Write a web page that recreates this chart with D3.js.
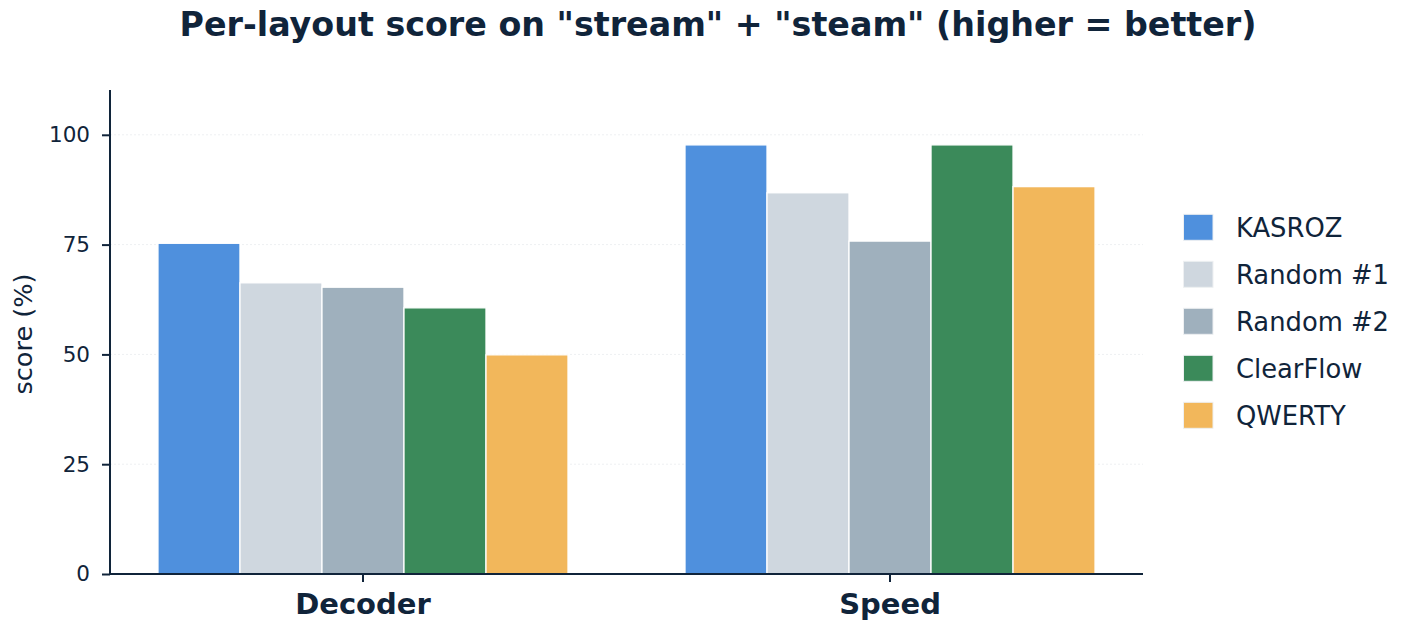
<!DOCTYPE html>
<html><head><meta charset="utf-8">
<script src="https://cdn.jsdelivr.net/npm/d3@7"></script>
<style>body{margin:0;background:#fff}svg{display:block}text{font-family:"DejaVu Sans",sans-serif;fill:#10243a}</style>
</head><body><svg id="c" width="1412" height="631"></svg>
<script>
const categories = ["Decoder", "Speed"];
const seriesNames = ["KASROZ", "Random #1", "Random #2", "ClearFlow", "QWERTY"];
const seriesColors = ["#4f90dd", "#cfd7df", "#9fb0bd", "#3b8a5a", "#f2b75b"];
const kasroz = [75.3, 97.7];
const random1 = [66.3, 86.8];
const random2 = [65.3, 75.8];
const clearflow = [60.6, 97.7];
const qwerty = [49.9, 88.2];
const yTicks = [0, 25, 50, 75, 100];
const values = [kasroz, random1, random2, clearflow, qwerty];

const svg = d3.select("#c");
const L = 110, R = 1143, T = 90, B = 574;
const ink = "#10243a";

const x = d3.scaleBand().domain(categories).range([L, R]).paddingInner(0.222).paddingOuter(0.091);
const xs = d3.scaleBand().domain(seriesNames).range([0, x.bandwidth()]).padding(0);
const y = d3.scaleLinear().domain([0, 110.2]).range([B, T]);

// grid
svg.append("g").selectAll("line").data(yTicks).join("line")
  .attr("x1", L).attr("x2", R).attr("y1", d => y(d)).attr("y2", d => y(d))
  .attr("stroke", "#eef0f2").attr("stroke-width", 1).attr("stroke-dasharray", "2,2");

// bars
const data = [];
categories.forEach((c, ci) => seriesNames.forEach((s, si) => data.push({c, s, v: values[si][ci], col: seriesColors[si]})));
svg.append("g").selectAll("rect").data(data).join("rect")
  .attr("x", d => x(d.c) + xs(d.s)).attr("width", xs.bandwidth())
  .attr("y", d => y(d.v)).attr("height", d => B - y(d.v))
  .attr("fill", d => d.col).attr("stroke", "#fff").attr("stroke-width", 1.3);

// y axis
const ya = svg.append("g").attr("transform", `translate(${L},0)`)
  .call(d3.axisLeft(y).tickValues(yTicks).tickSize(8).tickPadding(12));
ya.select(".domain").remove();
ya.selectAll(".tick line").attr("stroke", ink).attr("stroke-width", 2);
ya.selectAll(".tick text").attr("font-size", 21.5).attr("font-family", "DejaVu Sans").attr("fill", ink);
svg.append("line").attr("x1", L).attr("x2", L).attr("y1", T).attr("y2", B + 1).attr("stroke", ink).attr("stroke-width", 2);

// x axis
const xa = svg.append("g").attr("transform", `translate(0,${B})`)
  .call(d3.axisBottom(x).tickSize(8).tickPadding(11.5));
xa.select(".domain").remove();
xa.selectAll(".tick line").attr("stroke", ink).attr("stroke-width", 2);
xa.selectAll(".tick text").attr("font-size", 29).attr("font-weight", "bold").attr("font-family", "DejaVu Sans").attr("fill", ink);
svg.append("line").attr("x1", L - 1).attr("x2", R).attr("y1", B).attr("y2", B).attr("stroke", ink).attr("stroke-width", 2);

// y label
svg.append("text").attr("transform", `translate(32,334) rotate(-90)`)
  .attr("text-anchor", "middle").attr("font-size", 25.6).text("score (%)");

// title
svg.append("text").attr("x", 718).attr("y", 36).attr("text-anchor", "middle")
  .attr("font-size", 33.3).attr("font-weight", "bold").text('Per-layout score on "stream" + "steam" (higher = better)');

// legend
const lg = svg.append("g");
seriesNames.forEach((s, i) => {
  const cy = 227.3 + i * 47;
  lg.append("rect").attr("x", 1183.5).attr("y", cy - 13).attr("width", 29.5).attr("height", 26)
    .attr("fill", seriesColors[i]).attr("stroke", "#eef0f2").attr("stroke-width", 1);
  lg.append("text").attr("x", 1236).attr("y", cy + 10).attr("font-size", 25.8).text(s);
});
</script></body></html>
